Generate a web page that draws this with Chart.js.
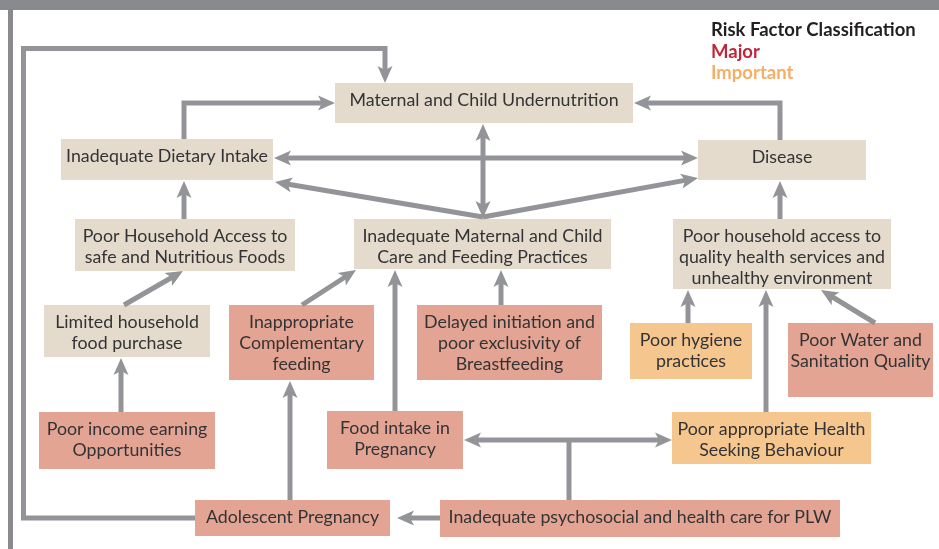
<!DOCTYPE html>
<html>
<head>
<meta charset="utf-8">
<script src="https://cdn.jsdelivr.net/npm/chart.js@4.4.1/dist/chart.umd.min.js"></script>
<style>
  html, body { margin: 0; padding: 0; background: #fff; }
  canvas { display: block; }
</style>
</head>
<body>
<canvas id="chart" width="939" height="549"></canvas>
<script>
// diagram nodes: text lines and risk class
const nodeLabels = [
  ['Maternal and Child Undernutrition'],
  ['Inadequate Dietary Intake'],
  ['Disease'],
  ['Poor Household Access to', 'safe and Nutritious Foods'],
  ['Inadequate Maternal and Child', 'Care and Feeding Practices'],
  ['Poor household access to', 'quality health services and', 'unhealthy environment'],
  ['Limited household', 'food purchase'],
  ['Inappropriate', 'Complementary', 'feeding'],
  ['Delayed initiation and', 'poor exclusivity of', 'Breastfeeding'],
  ['Poor hygiene', 'practices'],
  ['Poor Water and', 'Sanitation Quality'],
  ['Poor income earning', 'Opportunities'],
  ['Food intake in', 'Pregnancy'],
  ['Poor appropriate Health', 'Seeking Behaviour'],
  ['Adolescent Pregnancy'],
  ['Inadequate psychosocial and health care for PLW']
];
const nodeClass = ['none', 'none', 'none', 'none', 'none', 'none', 'none',
  'major', 'major', 'important', 'major', 'major', 'major', 'important', 'major', 'major'];

// box extents in diagram units [x1, y1, x2, y2]
const nodeBoxes = [
  [335, 83, 633, 123],
  [61, 139, 273, 180],
  [698, 140, 866, 180],
  [75, 219, 295, 271],
  [354, 219, 611, 269],
  [673, 219, 891, 289],
  [44, 305, 210, 357],
  [229, 305, 374, 380],
  [417, 305, 602, 380],
  [630, 323, 752, 379],
  [788, 323, 933, 397],
  [39, 412, 215, 469],
  [327, 411, 463, 469],
  [672, 412, 871, 464],
  [195, 500, 390, 536],
  [440, 500, 840, 537]
];

// connectors as polylines, with arrow heads at 'end', 'both' or 'none'
const linkPaths = [
  [[195, 518], [23.5, 518], [23.5, 48.5], [385, 48.5], [385, 83]],
  [[184, 139], [184, 103], [335, 103]],
  [[780, 140], [780, 103], [634, 103]],
  [[274, 158], [698, 158]],
  [[483, 124], [483, 218]],
  [[483, 217], [275, 182]],
  [[483, 217], [698, 178]],
  [[184, 219], [184, 181]],
  [[124, 305], [183, 271]],
  [[121, 412], [121, 358]],
  [[302, 305], [356, 270]],
  [[395, 411], [395, 270]],
  [[501, 305], [501, 270]],
  [[290, 500], [290, 381]],
  [[440, 518], [397, 518]],
  [[569, 500], [569, 440]],
  [[464, 440], [672, 440]],
  [[780, 219], [780, 181]],
  [[766, 412], [766, 290]],
  [[688, 323], [688, 290]],
  [[875, 323], [821, 290]]
];
const linkHeads = ['end', 'end', 'end', 'both', 'both', 'end', 'end', 'end', 'end', 'end',
  'end', 'end', 'end', 'end', 'end', 'none', 'both', 'end', 'end', 'end', 'end'];

const legendTitle = 'Risk Factor Classification';
const legendItems = ['Major', 'Important'];

const fills = { none: '#e4dbcd', major: '#e4a493', important: '#f6c68f' };
const legendColors = ['#c1273a', '#f5ae66'];
const arrowGrey = '#939497';
const HEAD_LEN = 17, HEAD_W = 15;

function trim(pts, atStart, atEnd) {
  const p = pts.map(q => q.slice());
  const cut = (a, b) => {
    const dx = a[0] - b[0], dy = a[1] - b[1], d = Math.hypot(dx, dy);
    const k = (HEAD_LEN - 5) / d;
    a[0] -= dx * k; a[1] -= dy * k;
  };
  if (atEnd) cut(p[p.length - 1], p[p.length - 2]);
  if (atStart) cut(p[0], p[1]);
  return p;
}

const datasets = linkPaths.map((pts, i) => {
  const h = linkHeads[i];
  const p = trim(pts, h === 'both', h !== 'none');
  return {
    data: p.map(([x, y]) => ({ x, y })),
    showLine: true,
    borderColor: arrowGrey,
    borderWidth: 5,
    borderJoinStyle: 'miter',
    borderCapStyle: 'butt',
    pointRadius: 0,
    fill: false,
    tension: 0
  };
});

function drawHead(ctx, x, y, sx, sy, tx, ty) {
  const a = Math.atan2(ty - sy, tx - sx);
  ctx.save();
  ctx.translate(x, y);
  ctx.rotate(a);
  ctx.beginPath();
  ctx.moveTo(0, 0);
  ctx.lineTo(-HEAD_LEN, -HEAD_W / 2);
  ctx.lineTo(-HEAD_LEN + 4, 0);
  ctx.lineTo(-HEAD_LEN, HEAD_W / 2);
  ctx.closePath();
  ctx.fillStyle = arrowGrey;
  ctx.fill();
  ctx.restore();
}

const diagramPlugin = {
  id: 'diagram',
  beforeDatasetsDraw(chart) {
    const { ctx, scales: { x, y } } = chart;
    ctx.save();
    // frame
    ctx.fillStyle = '#898a8e';
    ctx.fillRect(x.getPixelForValue(0), y.getPixelForValue(0), x.getPixelForValue(939), y.getPixelForValue(10) - y.getPixelForValue(0));
    ctx.fillRect(x.getPixelForValue(8), y.getPixelForValue(10), x.getPixelForValue(13) - x.getPixelForValue(8), y.getPixelForValue(549) - y.getPixelForValue(10));

    // boxes
    ctx.textAlign = 'center';
    ctx.textBaseline = 'middle';
    ctx.font = '17.8px Lato';
    nodeBoxes.forEach((b, i) => {
      const x1 = x.getPixelForValue(b[0]), x2 = x.getPixelForValue(b[2]);
      const y1 = y.getPixelForValue(b[1]), y2 = y.getPixelForValue(b[3]);
      ctx.fillStyle = fills[nodeClass[i]];
      ctx.fillRect(x1, y1, x2 - x1, y2 - y1);
      ctx.fillStyle = '#333335';
      const cx = (x1 + x2) / 2;
      nodeLabels[i].forEach((line, j) => {
        ctx.fillText(line, cx, y1 + 17 + j * 21);
      });
    });

    // legend
    ctx.textAlign = 'left';
    ctx.font = 'bold 18.5px Lato';
    ctx.fillStyle = '#231f20';
    ctx.fillText(legendTitle, x.getPixelForValue(711), y.getPixelForValue(30));
    legendItems.forEach((t, i) => {
      ctx.fillStyle = legendColors[i];
      ctx.fillText(t, x.getPixelForValue(711), y.getPixelForValue(52 + i * 21));
    });
    ctx.restore();
  },
  afterDatasetsDraw(chart) {
    const { ctx, scales: { x, y } } = chart;
    linkPaths.forEach((pts, i) => {
      const h = linkHeads[i];
      const px = pts.map(([a, b]) => [x.getPixelForValue(a), y.getPixelForValue(b)]);
      const n = px.length;
      if (h !== 'none') {
        drawHead(ctx, px[n - 1][0], px[n - 1][1], px[n - 2][0], px[n - 2][1], px[n - 1][0], px[n - 1][1]);
      }
      if (h === 'both') {
        drawHead(ctx, px[0][0], px[0][1], px[1][0], px[1][1], px[0][0], px[0][1]);
      }
    });
  }
};

new Chart(document.getElementById('chart'), {
  type: 'scatter',
  data: { datasets },
  options: {
    responsive: false,
    animation: false,
    events: [],
    layout: { padding: 0 },
    plugins: { legend: { display: false }, tooltip: { enabled: false } },
    scales: {
      x: { type: 'linear', min: 0, max: 939, display: false },
      y: { type: 'linear', min: 0, max: 549, reverse: true, display: false }
    }
  },
  plugins: [diagramPlugin]
});
</script>
</body>
</html>
